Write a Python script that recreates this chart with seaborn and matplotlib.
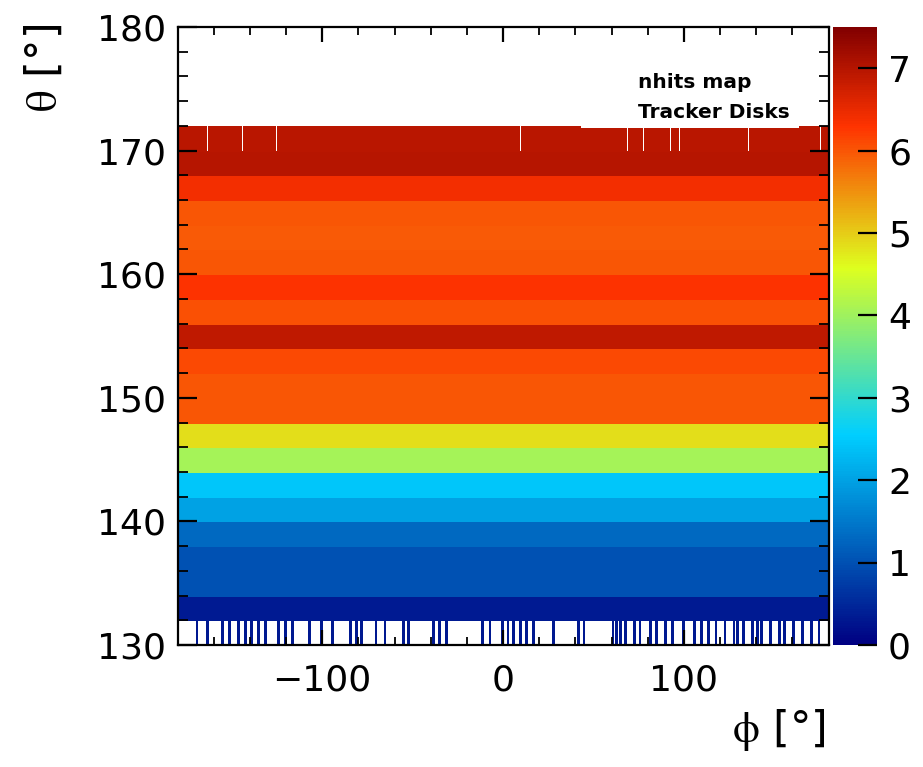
import numpy as np
import pandas as pd
import matplotlib
matplotlib.use("Agg")
import matplotlib.pyplot as plt
from matplotlib.colors import LinearSegmentedColormap
from matplotlib.ticker import MultipleLocator
from matplotlib.patches import Rectangle
import seaborn as sns

# ---------------- data ----------------
phi_edges = np.arange(-180, 181, 1)          # 1 degree phi bins
theta_edges = np.arange(130, 173, 2)         # 2 degree theta bands (130..172)

# mean nhits per theta band (130-132 is handled separately, sparse)
band_theta_low = [132, 134, 136, 138, 140, 142, 144, 146, 148, 150,
                  152, 154, 156, 158, 160, 162, 164, 166, 168, 170]
band_values = [0.35, 1.0, 1.0, 1.3, 2.0, 2.45, 4.05, 4.85, 6.0, 6.0,
               6.1, 6.9, 6.05, 6.3, 6.0, 5.95, 6.0, 6.4, 7.0, 6.95]

# lowest band (130-132): only a few phi bins are filled
low_band_phi = [-170, -164, -156, -152, -147, -143, -140, -136, -132, -125,
                -121, -117, -108, -101, -95, -85, -82, -79, -71, -66, -56,
                -53, -39, -36, -32, -12, -8, -1, 2, 5, 9, 12, 16, 27, 41, 44,
                60, 62, 64, 67, 72, 75, 81, 84, 89, 93, 99, 105, 109, 113,
                117, 122, 127, 129, 132, 137, 140, 142, 147, 152, 155, 160,
                165, 170, 174]
low_band_value = 0.3

# top band (170-172): empty phi bins
top_band_empty_phi = [-164, -160, -145, -126, 9, 68, 77, 92, 97, 135, 175]

# build per-cell table
rows = []
phi_centers = phi_edges[:-1] + 0.5
for p in phi_centers:
    pb = int(np.floor(p))
    rows.append((p, 131.0, low_band_value if pb in low_band_phi else 0.0))
    for tl, v in zip(band_theta_low, band_values):
        if tl == 170 and pb in top_band_empty_phi:
            v = 0.0
        rows.append((p, tl + 1.0, v))
df = pd.DataFrame(rows, columns=["phi", "theta", "nhits"])

# ---------------- style ----------------
cmap = LinearSegmentedColormap.from_list(
    "rootjet",
    [(0.00, (0.00, 0.00, 0.51)),
     (0.34, (0.00, 0.81, 1.00)),
     (0.61, (0.87, 1.00, 0.12)),
     (0.84, (1.00, 0.20, 0.00)),
     (1.00, (0.51, 0.00, 0.00))], N=256)

sns.set_theme(style="white")
plt.rcParams["font.family"] = ["DejaVu Sans"]
plt.rcParams["mathtext.fontset"] = "stix"
plt.rcParams["axes.axisbelow"] = False
for k in ["text.color", "axes.labelcolor", "xtick.color", "ytick.color",
          "axes.edgecolor"]:
    plt.rcParams[k] = "black"

W, H = 923, 767
fig = plt.figure(figsize=(W / 100, H / 100), dpi=100)
ax = fig.add_axes([177.5 / W, (H - 645) / H, 651 / W, 618 / H])
cax = fig.add_axes([833 / W, (H - 645) / H, 44 / W, 618 / H])

sns.histplot(data=df, x="phi", y="theta", weights="nhits",
             bins=(phi_edges, theta_edges), cmap=cmap, vmin=0, vmax=7.5,
             cbar=True, cbar_ax=cax, ax=ax)

mesh = ax.collections[0]
mesh.set_clim(0, 7.5)
mesh.set_edgecolor("face")
mesh.set_linewidth(0.4)

ax.set_axisbelow(False)
cax.set_axisbelow(False)
ax.set_xlim(-180, 180)
ax.set_ylim(130, 180)
ax.set_xlabel("")
ax.set_ylabel("")

ax.xaxis.set_major_locator(MultipleLocator(100))
ax.xaxis.set_minor_locator(MultipleLocator(20))
ax.yaxis.set_major_locator(MultipleLocator(10))
ax.yaxis.set_minor_locator(MultipleLocator(2))

for s in ax.spines.values():
    s.set_visible(True)
    s.set_color("black")
    s.set_linewidth(1.6)
    s.set_zorder(10)

ax.tick_params(axis="x", which="major", direction="in", length=11, width=1.6,
               top=True, bottom=True, labelsize=26, pad=13, colors="black")
ax.tick_params(axis="x", which="minor", direction="in", length=5.5, width=1.3,
               top=True, bottom=True, colors="black")
ax.tick_params(axis="y", which="major", direction="in", length=14, width=1.6,
               left=True, right=True, labelsize=26, pad=8, colors="black")
ax.tick_params(axis="y", which="minor", direction="in", length=7, width=1.3,
               left=True, right=True, colors="black")

# legend-like white box with text
ax.add_patch(Rectangle((0.62, 0.836), 0.335, 0.13, transform=ax.transAxes,
                       facecolor="white", edgecolor="none", zorder=5))
ax.text(0.707, 0.911, "nhits map", transform=ax.transAxes, fontsize=14.5,
        fontweight="bold", ha="left", va="center", zorder=6, color="black")
ax.text(0.707, 0.862, "Tracker Disks", transform=ax.transAxes, fontsize=14.5,
        fontweight="bold", ha="left", va="center", zorder=6, color="black")

# colorbar
cbar = mesh.colorbar
cbar.outline.set_visible(False)
cbar.set_ticks(np.arange(0, 8, 1))
cax.tick_params(axis="y", which="major", direction="in", length=14, width=1.6,
                right=True, left=False, labelsize=26, pad=8, colors="black")
cax.minorticks_off()

# axis titles
fig.text(45 / W, 1 - 24 / H, r"$\mathrm{\theta}$ [°]", rotation=90,
         ha="center", va="top", fontsize=31)
fig.text(826 / W, 1 - 730 / H, r"$\mathrm{\phi}$ [°]", ha="right",
         va="center", fontsize=31)

fig.savefig("out.png", dpi=100, facecolor="white")
